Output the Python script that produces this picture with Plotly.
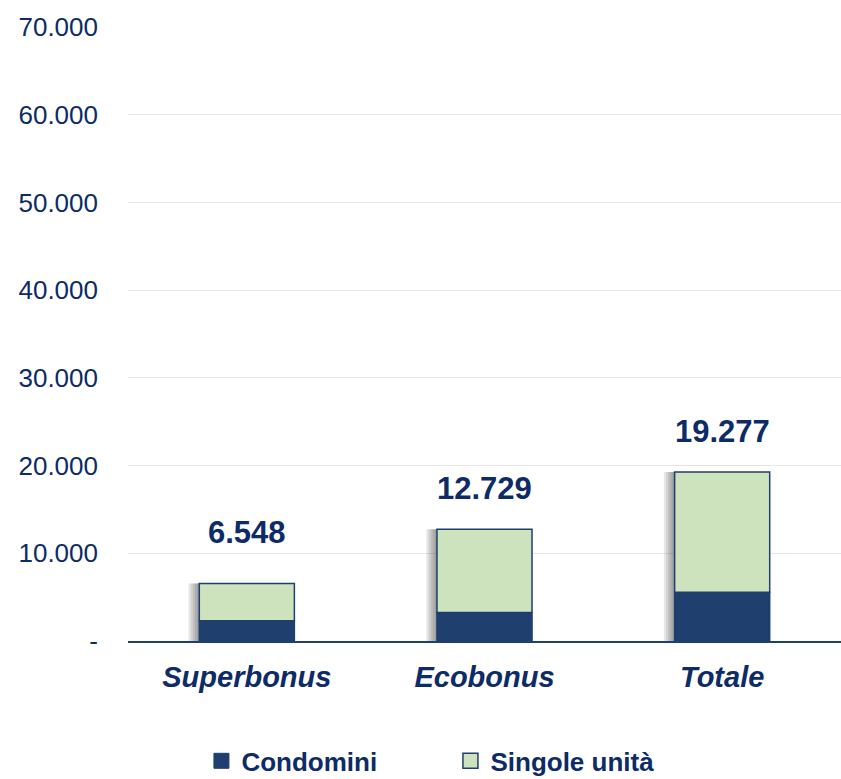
import plotly.graph_objects as go

categories = ["Superbonus", "Ecobonus", "Totale"]
condomini = [2300, 3250, 5550]
singole = [4248, 9479, 13727]
totals = [6548, 12729, 19277]
total_labels = ["6.548", "12.729", "19.277"]
tick_vals = [0, 10000, 20000, 30000, 40000, 50000, 60000, 70000]
tick_text = ["-", "10.000", "20.000", "30.000", "40.000", "50.000", "60.000", "70.000"]

navy = "#1F3F6E"
green = "#CCE3BE"
textc = "#0D2B66"
FONT = "Liberation Sans, Arial"
BW = 0.4

fig = go.Figure()

# soft shadow on the left of each bar
for k in range(1, 6):
    fig.add_trace(go.Bar(x=categories, y=totals, base=0, width=BW, offset=-BW / 2 - 0.009 * k,
                         marker=dict(color="rgba(60,60,60,0.12)", line=dict(width=0)),
                         showlegend=False, hoverinfo="skip"))

fig.add_trace(go.Bar(x=categories, y=condomini, base=0, name="Condomini", showlegend=False,
                     marker=dict(color=navy, line=dict(color=navy, width=1.5)), width=BW))
fig.add_trace(go.Bar(x=categories, y=singole, base=condomini, name="Singole unità", showlegend=False,
                     marker=dict(color=green, line=dict(color=navy, width=1.5)), width=BW))

# legend entries
fig.add_trace(go.Scatter(x=[None], y=[None], mode="markers", name="<b>Condomini</b>",
                         marker=dict(symbol="square", size=15, color=navy,
                                     line=dict(color=navy, width=1))))
fig.add_trace(go.Scatter(x=[None], y=[None], mode="markers", name="<b>Singole unità</b>",
                         marker=dict(symbol="square", size=15, color=green,
                                     line=dict(color=navy, width=1.5))))

label_dy = [51, 41, 40]
for c, t, lab, dy in zip(categories, totals, total_labels, label_dy):
    fig.add_annotation(x=c, y=t, text="<b>" + lab + "</b>", showarrow=False,
                       yanchor="middle", yshift=dy,
                       font=dict(size=31, color=textc, family=FONT))

fig.update_layout(
    barmode="overlay",
    width=841, height=779,
    margin=dict(l=128, r=0, t=27, b=138, autoexpand=False),
    plot_bgcolor="white", paper_bgcolor="white",
    font=dict(family=FONT, color=textc),
    showlegend=True,
    legend=dict(orientation="h", x=0.103, xanchor="left", y=-0.157, yanchor="top",
                font=dict(size=26, color=textc, family=FONT),
                itemsizing="trace", entrywidthmode="pixels", entrywidth=204,
                traceorder="normal"),
    xaxis=dict(tickfont=dict(size=29, color=textc), showline=True, linecolor=navy,
               linewidth=2, ticks="", tickvals=categories, ticklabelstandoff=9,
               ticktext=["<b><i>" + c + "</i></b>" for c in categories]),
    yaxis=dict(range=[0, 70000], tickvals=tick_vals, ticktext=tick_text,
               tickfont=dict(size=26, color=textc), gridcolor="#E6E6E6", gridwidth=1,
               zeroline=False, ticklabelstandoff=29),
)

fig.write_html("out.html", config={"displayModeBar": False},
               post_script="document.body.style.margin='0px';")
